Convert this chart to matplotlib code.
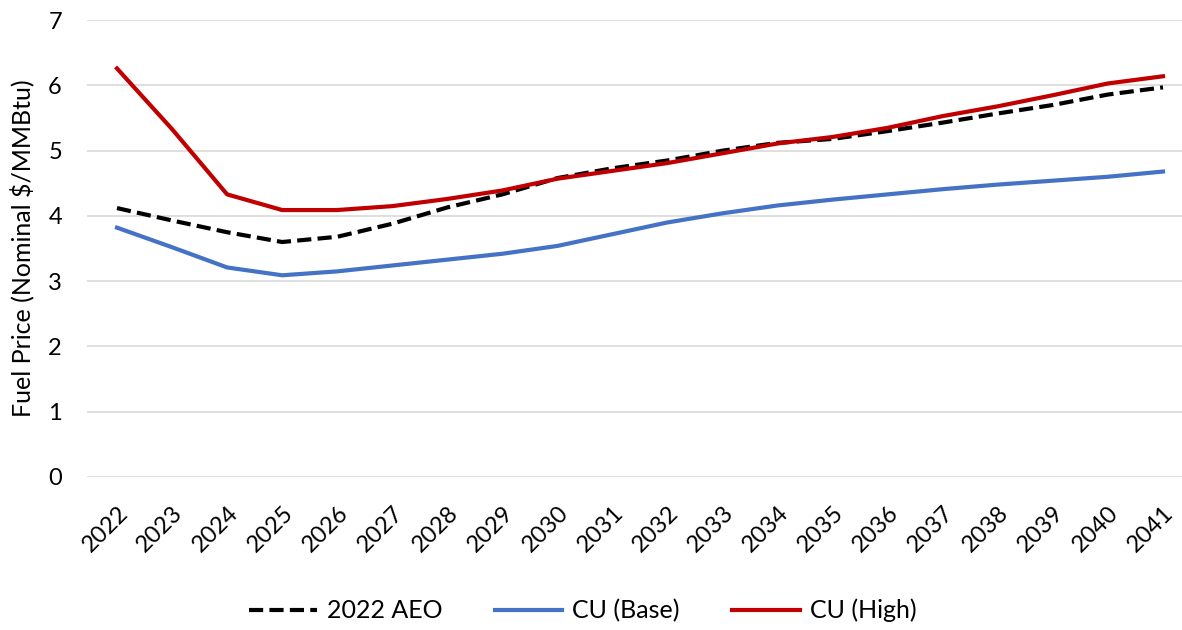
import matplotlib.pyplot as plt

plt.rcParams['font.family'] = ['Lato', 'DejaVu Sans']

years = list(range(2022, 2042))
aeo_2022 = [4.12, 3.93, 3.75, 3.60, 3.68, 3.88, 4.13, 4.33, 4.58, 4.73,
            4.85, 5.00, 5.12, 5.18, 5.30, 5.43, 5.57, 5.70, 5.86, 5.97]
cu_base = [3.82, 3.52, 3.21, 3.09, 3.15, 3.24, 3.33, 3.42, 3.54, 3.72,
           3.90, 4.04, 4.16, 4.25, 4.33, 4.41, 4.48, 4.54, 4.60, 4.68]
cu_high = [6.26, 5.33, 4.33, 4.09, 4.09, 4.15, 4.26, 4.39, 4.57, 4.69,
           4.81, 4.96, 5.11, 5.21, 5.35, 5.53, 5.68, 5.85, 6.03, 6.14]

fig = plt.figure(figsize=(11.82, 6.3), dpi=100)
ax = fig.add_axes([0.0736, 0.243, 0.9264, 0.725])

ax.plot(years, aeo_2022, color='black', lw=3, ls=(0, (3.4, 1.5)), label='2022 AEO')
ax.plot(years, cu_base, color='#4472C4', lw=3, label='CU (Base)')
ax.plot(years, cu_high, color='#C00000', lw=3, label='CU (High)')

ax.set_ylim(0, 7)
ax.set_xlim(2021.455, 2041.345)
ax.set_yticks(range(0, 8))
ax.set_xticks(years)
ax.set_xticklabels([str(y) for y in years], rotation=45, ha='right',
                   rotation_mode='anchor', fontsize=17)
ax.tick_params(axis='y', labelsize=17, length=0, pad=18)
ax.tick_params(axis='x', length=0, pad=18)
ax.grid(axis='y', color='#d9d9d9', lw=1.2)
ax.set_axisbelow(True)
for s in ax.spines.values():
    s.set_visible(False)

ax.set_ylabel('Fuel Price (Nominal $/MMBtu)', fontsize=18)
ax.yaxis.set_label_coords(-0.048, 0.5)

ax.legend(loc='lower center', bbox_to_anchor=(0.453, -0.368), ncol=3,
          frameon=False, fontsize=18, handlelength=2.7, columnspacing=2.1,
          handletextpad=0.4)

fig.savefig('out.png', dpi=100)
